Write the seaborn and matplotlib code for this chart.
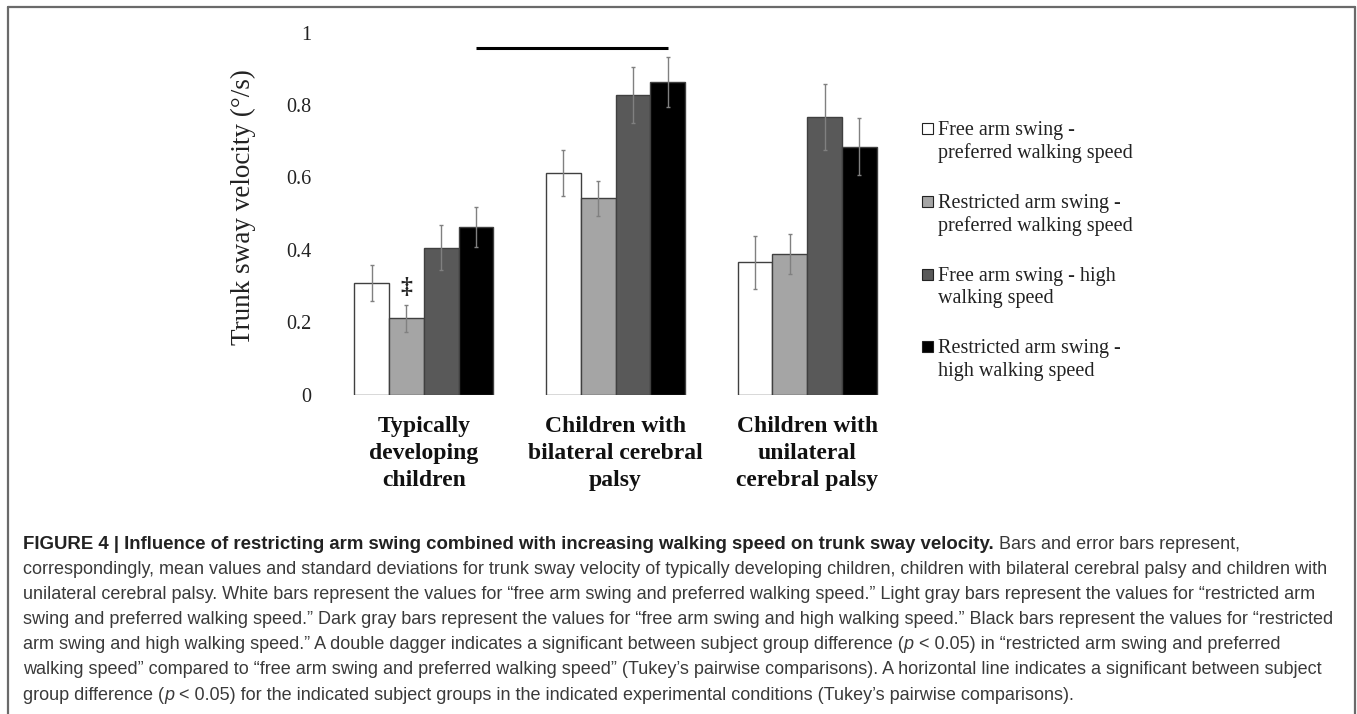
import matplotlib
matplotlib.use("Agg")
import matplotlib.pyplot as plt
from matplotlib.lines import Line2D
from matplotlib.patches import Rectangle
import numpy as np
import pandas as pd
import seaborn as sns

# ---- data ----
GROUPS = ["Typically\ndeveloping\nchildren",
          "Children with\nbilateral cerebral\npalsy",
          "Children with\nunilateral\ncerebral palsy"]
CONDITIONS = ["Free arm swing -\npreferred walking speed",
              "Restricted arm swing -\npreferred walking speed",
              "Free arm swing - high\nwalking speed",
              "Restricted arm swing -\nhigh walking speed"]

FREE_PREF = [0.308, 0.611, 0.365]
RESTR_PREF = [0.210, 0.542, 0.388]
FREE_HIGH = [0.405, 0.828, 0.766]
RESTR_HIGH = [0.462, 0.863, 0.685]

FREE_PREF_SD = [0.051, 0.064, 0.074]
RESTR_PREF_SD = [0.038, 0.048, 0.055]
FREE_HIGH_SD = [0.062, 0.078, 0.091]
RESTR_HIGH_SD = [0.055, 0.068, 0.080]

Y_TICKS = [0, 0.2, 0.4, 0.6, 0.8, 1.0]
Y_TICK_LABELS = ["0", "0.2", "0.4", "0.6", "0.8", "1"]
Y_LABEL = "Trunk sway velocity (°/s)"

SIG_LINE_Y = 0.957   # horizontal significance line
DAGGER_Y = 0.295     # double dagger above restricted/preferred TD bar

COLORS = ["#ffffff", "#a5a5a5", "#595959", "#000000"]

CAPTION = [
    [("FIGURE 4 | Influence of restricting arm swing combined with increasing walking speed on trunk sway velocity.", "b"),
     (" Bars and error bars represent,", "r")],
    [("correspondingly, mean values and standard deviations for trunk sway velocity of typically developing children, children with bilateral cerebral palsy and children with", "r")],
    [("unilateral cerebral palsy. White bars represent the values for \u201cfree arm swing and preferred walking speed.\u201d Light gray bars represent the values for \u201crestricted arm", "r")],
    [("swing and preferred walking speed.\u201d Dark gray bars represent the values for \u201cfree arm swing and high walking speed.\u201d Black bars represent the values for \u201crestricted", "r")],
    [("arm swing and high walking speed.\u201d A double dagger indicates a significant between subject group difference (", "r"),
     ("p", "i"), (" < 0.05) in \u201crestricted arm swing and preferred", "r")],
    [("walking speed\u201d compared to \u201cfree arm swing and preferred walking speed\u201d (Tukey\u2019s pairwise comparisons). A horizontal line indicates a significant between subject", "r")],
    [("group difference (", "r"), ("p", "i"),
     (" < 0.05) for the indicated subject groups in the indicated experimental conditions (Tukey\u2019s pairwise comparisons).", "r")],
]

W, H = 1357, 714
SERIF = ["Liberation Serif", "DejaVu Serif"]
SANS = ["Liberation Sans", "DejaVu Sans"]
CAP_SIZE = 12.95
CAP_BOLD_SIZE = 13.4
CAP_COLOR = "#3a3a3a"


def fx(px):
    return px / W


def fy(px):
    return 1 - px / H


def draw_runs(fig, renderer, x_px, base_px, runs):
    x = x_px
    for text, style in runs:
        bold = style == "b"
        t = fig.text(fx(x), fy(base_px), text,
                     fontsize=CAP_BOLD_SIZE if bold else CAP_SIZE, family=SANS,
                     color="#222222" if bold else CAP_COLOR,
                     fontweight="bold" if bold else "normal",
                     fontstyle="italic" if style == "i" else "normal",
                     ha="left", va="baseline")
        x += t.get_window_extent(renderer).width


sns.set_theme(style="white")
plt.rcParams["font.family"] = SERIF

means = [FREE_PREF, RESTR_PREF, FREE_HIGH, RESTR_HIGH]
sds = [FREE_PREF_SD, RESTR_PREF_SD, FREE_HIGH_SD, RESTR_HIGH_SD]
df = pd.DataFrame({
    "group": np.tile(GROUPS, len(CONDITIONS)),
    "condition": np.repeat(CONDITIONS, len(GROUPS)),
    "value": np.concatenate(means),
    "sd": np.concatenate(sds),
})

fig = plt.figure(figsize=(W / 100, H / 100), dpi=100)
ax = fig.add_axes([fx(328), fy(394.5), (903 - 328) / W, (394.5 - 32.5) / H])

sns.barplot(data=df, x="group", y="value", hue="condition", order=GROUPS,
            hue_order=CONDITIONS, palette=COLORS, saturation=1, width=0.725,
            errorbar=None, edgecolor="#404040", linewidth=1, legend=False, ax=ax)

bar_x = []
for cont, cond in zip(ax.containers, CONDITIONS):
    sub = df[df["condition"] == cond]
    xs = [b.get_x() + b.get_width() / 2 for b in cont]
    bar_x.append(xs)
    ax.errorbar(xs, sub["value"], yerr=sub["sd"], fmt="none", ecolor="#808080",
                elinewidth=1, capsize=1.6, capthick=1, zorder=3)

# significance marks
ax.plot([bar_x[3][0], bar_x[3][1]], [SIG_LINE_Y, SIG_LINE_Y], color="black",
        lw=2.2, solid_capstyle="butt", clip_on=False)
ax.text(bar_x[1][0], DAGGER_Y, "\u2021", ha="center", va="center", fontsize=17,
        fontweight="bold", family=SERIF)

ax.set_xlim(-0.5, 2.5)
ax.set_ylim(0, 1)
ax.set_yticks(Y_TICKS, Y_TICK_LABELS)
ax.set_xticks(range(len(GROUPS)))
ax.set_xticklabels(GROUPS, fontweight="bold", fontsize=17, linespacing=1.38)
ax.tick_params(axis="y", length=0, pad=12.2, labelsize=14.5, labelcolor="#222222")
ax.tick_params(axis="x", length=0, pad=15.5, labelcolor="#111111")
ax.set_xlabel("")
ax.set_ylabel("")
sns.despine(ax=ax, left=True, bottom=True)

fig.text(fx(243), fy(207), Y_LABEL, rotation=90, ha="center", va="center",
         fontsize=19.5, color="#222222")

# legend, drawn beside the plot
for i, (label, color) in enumerate(zip(CONDITIONS, COLORS)):
    base = 135 + i * 72.8
    fig.add_artist(Rectangle((fx(922), fy(base - 1)), 11 / W, 11 / H,
                             transform=fig.transFigure, facecolor=color,
                             edgecolor="#222222", lw=0.8))
    for j, line in enumerate(label.split("\n")):
        fig.text(fx(938), fy(base + j * 22.7), line, ha="left", va="baseline",
                 fontsize=14.5, color="#222222")

# frame around the figure panel
frame = dict(transform=fig.transFigure, color="#6a6a6a", lw=1.6)
fig.add_artist(Line2D([fx(8), fx(8)], [0, fy(7)], **frame))
fig.add_artist(Line2D([fx(8), fx(1355)], [fy(7), fy(7)], **frame))
fig.add_artist(Line2D([fx(1355), fx(1355)], [0, fy(7)], **frame))

renderer = fig.canvas.get_renderer()
for k, runs in enumerate(CAPTION):
    draw_runs(fig, renderer, 23, 549 + k * 25.1, runs)

fig.savefig("out.png", dpi=100)
plt.close(fig)
